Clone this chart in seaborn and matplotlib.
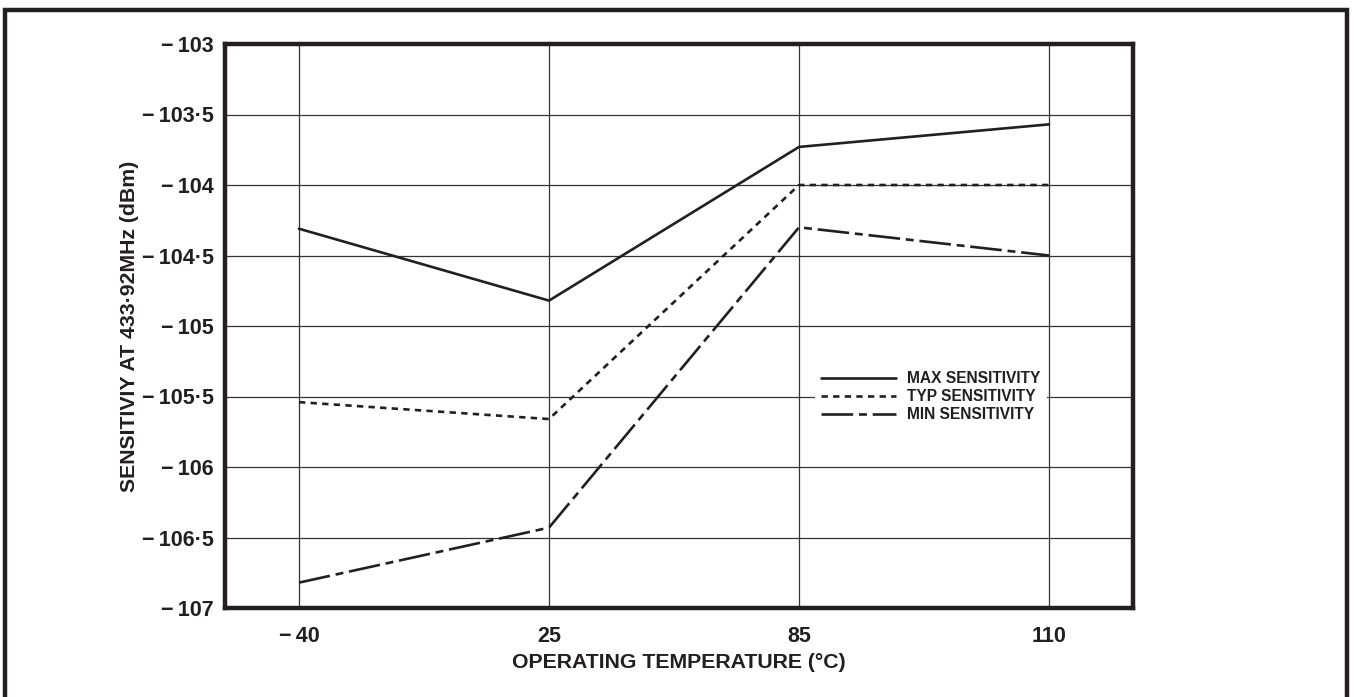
import matplotlib
matplotlib.use("Agg")
import matplotlib.pyplot as plt
import seaborn as sns
import pandas as pd
from matplotlib.patches import Rectangle
from matplotlib import font_manager

temperatures = ["\u221240", "25", "85", "110"]
max_sens = [-104.31, -104.82, -103.73, -103.57]
typ_sens = [-105.54, -105.66, -104.00, -104.00]
min_sens = [-106.82, -106.43, -104.30, -104.50]
series_names = ["MAX SENSITIVITY", "TYP SENSITIVITY", "MIN SENSITIVITY"]
y_ticks = [-107, -106.5, -106, -105.5, -105, -104.5, -104, -103.5, -103]

rows = []
for name, vals in zip(series_names, [max_sens, typ_sens, min_sens]):
    for i, (t, v) in enumerate(zip(temperatures, vals)):
        rows.append({"pos": i, "temp": t, "value": v, "series": name})
df = pd.DataFrame(rows)

sns.set_theme(style="white")
plt.rcParams["font.family"] = ["Liberation Sans", "DejaVu Sans"]
plt.rcParams["font.weight"] = "bold"

installed = {f.name for f in font_manager.fontManager.ttflist}
legend_family = ["Liberation Sans Narrow"] if "Liberation Sans Narrow" in installed else (
    ["DejaVu Sans Condensed"] if "DejaVu Sans Condensed" in installed else ["Liberation Sans"])

ink = "#231f20"
fig = plt.figure(figsize=(13.54, 6.97), dpi=100)
ax = fig.add_axes([225 / 1354, 89 / 697, 908 / 1354, 564 / 697])

dashes = {
    "MAX SENSITIVITY": "",
    "TYP SENSITIVITY": (2.4, 2.0),
    "MIN SENSITIVITY": (12, 2.2, 3, 2.2),
}
sns.lineplot(data=df, x="pos", y="value", style="series", dashes=dashes,
             color=ink, linewidth=1.9, ax=ax, legend=True, zorder=3,
             style_order=series_names)

ax.set_xlim(-0.296, 3.336)
ax.set_ylim(-107, -103)
ax.set_xticks(range(len(temperatures)))
ax.set_xticklabels([t.replace("\u2212", "\u2212\u2009") for t in temperatures])
ax.set_yticks(y_ticks)

def fmt(v):
    s = f"{abs(v):g}".replace(".", "\u00b7")
    return "\u2212\u2009" + s

ax.set_yticklabels([fmt(v) for v in y_ticks])
ax.tick_params(axis="both", length=0, labelsize=15.5, colors=ink)
ax.tick_params(axis="y", pad=8)
ax.tick_params(axis="x", pad=13)
for lab in ax.get_xticklabels() + ax.get_yticklabels():
    lab.set_fontweight("bold")

ax.grid(True, color="#333333", linewidth=0.9)
ax.set_axisbelow(True)
for sp in ax.spines.values():
    sp.set_visible(True)
    sp.set_linewidth(3.2)
    sp.set_color(ink)

ax.set_xlabel("OPERATING TEMPERATURE (\u00b0C)", fontsize=15.3, fontweight="bold",
              color=ink, labelpad=4)
ax.set_ylabel("SENSITIVIY AT 433\u00b792MHz (dBm)", fontsize=15.3, fontweight="bold",
              color=ink, labelpad=2)

handles, labels = ax.get_legend_handles_labels()
leg = ax.legend(handles, labels, loc="upper left",
                bbox_to_anchor=((815 - 225) / 908, (608 - 365) / 564),
                frameon=True, facecolor="white", edgecolor="none", framealpha=1,
                handlelength=4.8, handletextpad=0.72, labelspacing=0.2,
                borderpad=0.4, borderaxespad=0,
                prop={"family": legend_family, "weight": "bold", "size": 11.2})
for t in leg.get_texts():
    t.set_color(ink)

fig.patches.append(Rectangle((5 / 1354, -0.05), 1342 / 1354, (697 - 10) / 697 + 0.05,
                             transform=fig.transFigure, fill=False,
                             edgecolor=ink, linewidth=3.2, zorder=10))

fig.savefig("out.png", dpi=100)
